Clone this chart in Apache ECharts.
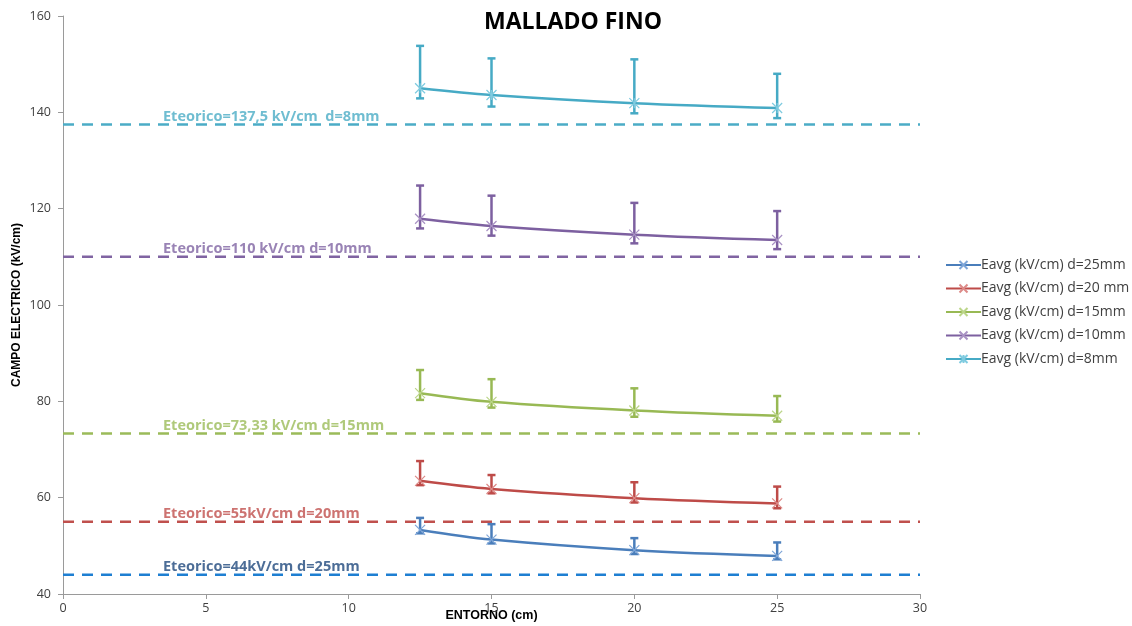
<!DOCTYPE html>
<html>
<head>
<meta charset="utf-8">
<script src="https://cdn.jsdelivr.net/npm/echarts@6/dist/echarts.min.js"></script>
<style>
  html, body { margin: 0; padding: 0; background: #fff; overflow: hidden; }
  #chart { width: 1132px; height: 626px; }
</style>
</head>
<body>
<div id="chart"></div>
<script>
// Distance from the electrode (cm)
const entorno = [12.5, 15, 20, 25];

// Average field per gap (kV/cm) with lower / upper error bounds
const names = ['Eavg (kV/cm) d=25mm', 'Eavg (kV/cm) d=20 mm', 'Eavg (kV/cm) d=15mm', 'Eavg (kV/cm) d=10mm', 'Eavg (kV/cm) d=8mm'];
const eavg25 = [53.3, 51.3, 49.1, 47.9];
const low25  = [52.6, 50.5, 48.3, 47.2];
const high25 = [55.8, 54.5, 51.6, 50.7];
const eavg20 = [63.5, 61.8, 59.9, 58.8];
const low20  = [62.6, 60.9, 59.0, 57.8];
const high20 = [67.6, 64.7, 63.2, 62.3];
const eavg15 = [81.7, 79.9, 78.1, 77.0];
const low15  = [80.3, 78.7, 76.8, 75.8];
const high15 = [86.5, 84.6, 82.7, 81.1];
const eavg10 = [117.9, 116.4, 114.6, 113.5];
const low10  = [115.9, 114.4, 112.8, 111.6];
const high10 = [124.8, 122.7, 121.2, 119.5];
const eavg8  = [145.0, 143.6, 141.9, 140.9];
const low8   = [142.9, 141.2, 139.8, 138.8];
const high8  = [153.8, 151.2, 151.0, 148.0];

// Theoretical field for each gap
const eteorico = [44, 55, 73.33, 110, 137.5];
const eteoricoText = ['Eteorico=44kV/cm d=25mm', 'Eteorico=55kV/cm d=20mm', 'Eteorico=73,33 kV/cm d=15mm', 'Eteorico=110 kV/cm d=10mm', 'Eteorico=137,5 kV/cm  d=8mm'];

const xTicks = [0, 5, 10, 15, 20, 25, 30];
const yTicks = [40, 60, 80, 100, 120, 140, 160];

const lineColors  = ['#4a7ebb', '#be4b48', '#98b954', '#7d60a0', '#46aac5'];
const markColors  = ['#7fa6d8', '#dc8a88', '#bcd68a', '#a992c4', '#7fcbe0'];
const dashColors  = ['#1e7fd2', '#c0504d', '#9bbb59', '#8064a2', '#4bacc6'];
const labelColors = ['#1f497d', '#c0504d', '#9bbb59', '#8064a2', '#4bacc6'];

const avgs  = [eavg25, eavg20, eavg15, eavg10, eavg8];
const lows  = [low25, low20, low15, low10, low8];
const highs = [high25, high20, high15, high10, high8];

const crossSym = 'path://M0,0L10,10M10,0L0,10';
const starSym  = 'path://M5,0L5,10M0,0L10,10M10,0L0,10';

const series = [];

// Dashed theoretical lines with their labels
eteorico.forEach((v, i) => {
  series.push({
    type: 'line',
    name: 'teo' + i,
    data: [[xTicks[0], v], [xTicks[xTicks.length - 1], v]],
    symbol: 'none',
    silent: true,
    z: 1,
    lineStyle: { color: dashColors[i], width: 2.5, type: [11, 8] }
  });
  series.push({
    type: 'scatter',
    name: 'teoLabel' + i,
    data: [[3.5, v]],
    symbolSize: 0,
    silent: true,
    z: 2,
    label: {
      show: true,
      position: 'top',
      align: 'left',
      distance: 0,
      formatter: () => eteoricoText[i],
      color: labelColors[i],
      fontFamily: 'Open Sans',
      fontWeight: 'bold',
      fontSize: 14.5
    }
  });
});

// Error bars
avgs.forEach((arr, i) => {
  series.push({
    type: 'custom',
    name: 'err' + i,
    silent: true,
    z: 3,
    data: entorno.map((x, k) => [x, lows[i][k], highs[i][k]]),
    renderItem: (params, api) => {
      const lo = api.coord([api.value(0), api.value(1)]);
      const hi = api.coord([api.value(0), api.value(2)]);
      const w = 4;
      const st = { stroke: lineColors[i], lineWidth: 2.5 };
      return {
        type: 'group',
        children: [
          { type: 'line', shape: { x1: lo[0], y1: lo[1], x2: hi[0], y2: hi[1] }, style: st },
          { type: 'line', shape: { x1: lo[0] - w, y1: lo[1], x2: lo[0] + w, y2: lo[1] }, style: st },
          { type: 'line', shape: { x1: hi[0] - w, y1: hi[1], x2: hi[0] + w, y2: hi[1] }, style: st }
        ]
      };
    }
  });
});

// Average field curves
avgs.forEach((arr, i) => {
  series.push({
    type: 'line',
    name: names[i],
    data: entorno.map((x, k) => [x, arr[k]]),
    smooth: 0.35,
    symbol: i === 4 ? starSym : crossSym,
    symbolSize: 10,
    showSymbol: true,
    z: 4,
    lineStyle: { color: lineColors[i], width: 2.5 },
    itemStyle: { color: 'none', borderColor: markColors[i], borderWidth: 1.2 },
    color: lineColors[i]
  });
});

const chart = echarts.init(document.getElementById('chart'), null, { renderer: 'canvas' });
chart.setOption({
  animation: false,
  backgroundColor: '#ffffff',
  title: {
    text: 'MALLADO FINO',
    left: 568,
    textAlign: 'center',
    top: 6,
    textStyle: { fontFamily: 'Open Sans', fontWeight: 'bold', fontSize: 23, color: '#000' }
  },
  legend: {
    data: names,
    orient: 'vertical',
    left: 940,
    top: 253,
    itemWidth: 35,
    itemHeight: 10,
    itemGap: 9.5,
    textStyle: { fontFamily: 'Open Sans', fontSize: 14, color: '#404040', padding: [0, 0, 0, -5] }
  },
  grid: { left: 63, top: 16, width: 857, height: 578, outerBoundsMode: 'none', containLabel: false },
  xAxis: {
    type: 'value',
    min: xTicks[0],
    max: xTicks[xTicks.length - 1],
    interval: 5,
    name: 'ENTORNO (cm)',
    nameLocation: 'middle',
    nameGap: 15,
    nameMoveOverlap: false,
    nameTextStyle: { fontFamily: 'Liberation Sans Narrow, Liberation Sans', fontWeight: 'bold', fontSize: 12.5, color: '#000' },
    axisLine: { lineStyle: { color: '#9a9a9a', width: 1 } },
    axisTick: { show: true, length: 5, lineStyle: { color: '#9a9a9a' } },
    axisLabel: { fontFamily: 'Open Sans', fontSize: 12.5, color: '#404040', margin: 8 },
    splitLine: { show: false }
  },
  yAxis: {
    type: 'value',
    min: yTicks[0],
    max: yTicks[yTicks.length - 1],
    interval: 20,
    name: 'CAMPO ELECTRICO (kV/cm)',
    nameLocation: 'middle',
    nameRotate: 90,
    nameGap: 40,
    nameMoveOverlap: false,
    nameTextStyle: { fontFamily: 'Liberation Sans Narrow, Liberation Sans', fontWeight: 'bold', fontSize: 12, color: '#000' },
    axisLine: { show: true, lineStyle: { color: '#9a9a9a', width: 1 } },
    axisTick: { show: true, length: 5, lineStyle: { color: '#9a9a9a' } },
    axisLabel: { fontFamily: 'Open Sans', fontSize: 12.5, color: '#404040', margin: 12 },
    splitLine: { show: false }
  },
  series: series
});
</script>
</body>
</html>
